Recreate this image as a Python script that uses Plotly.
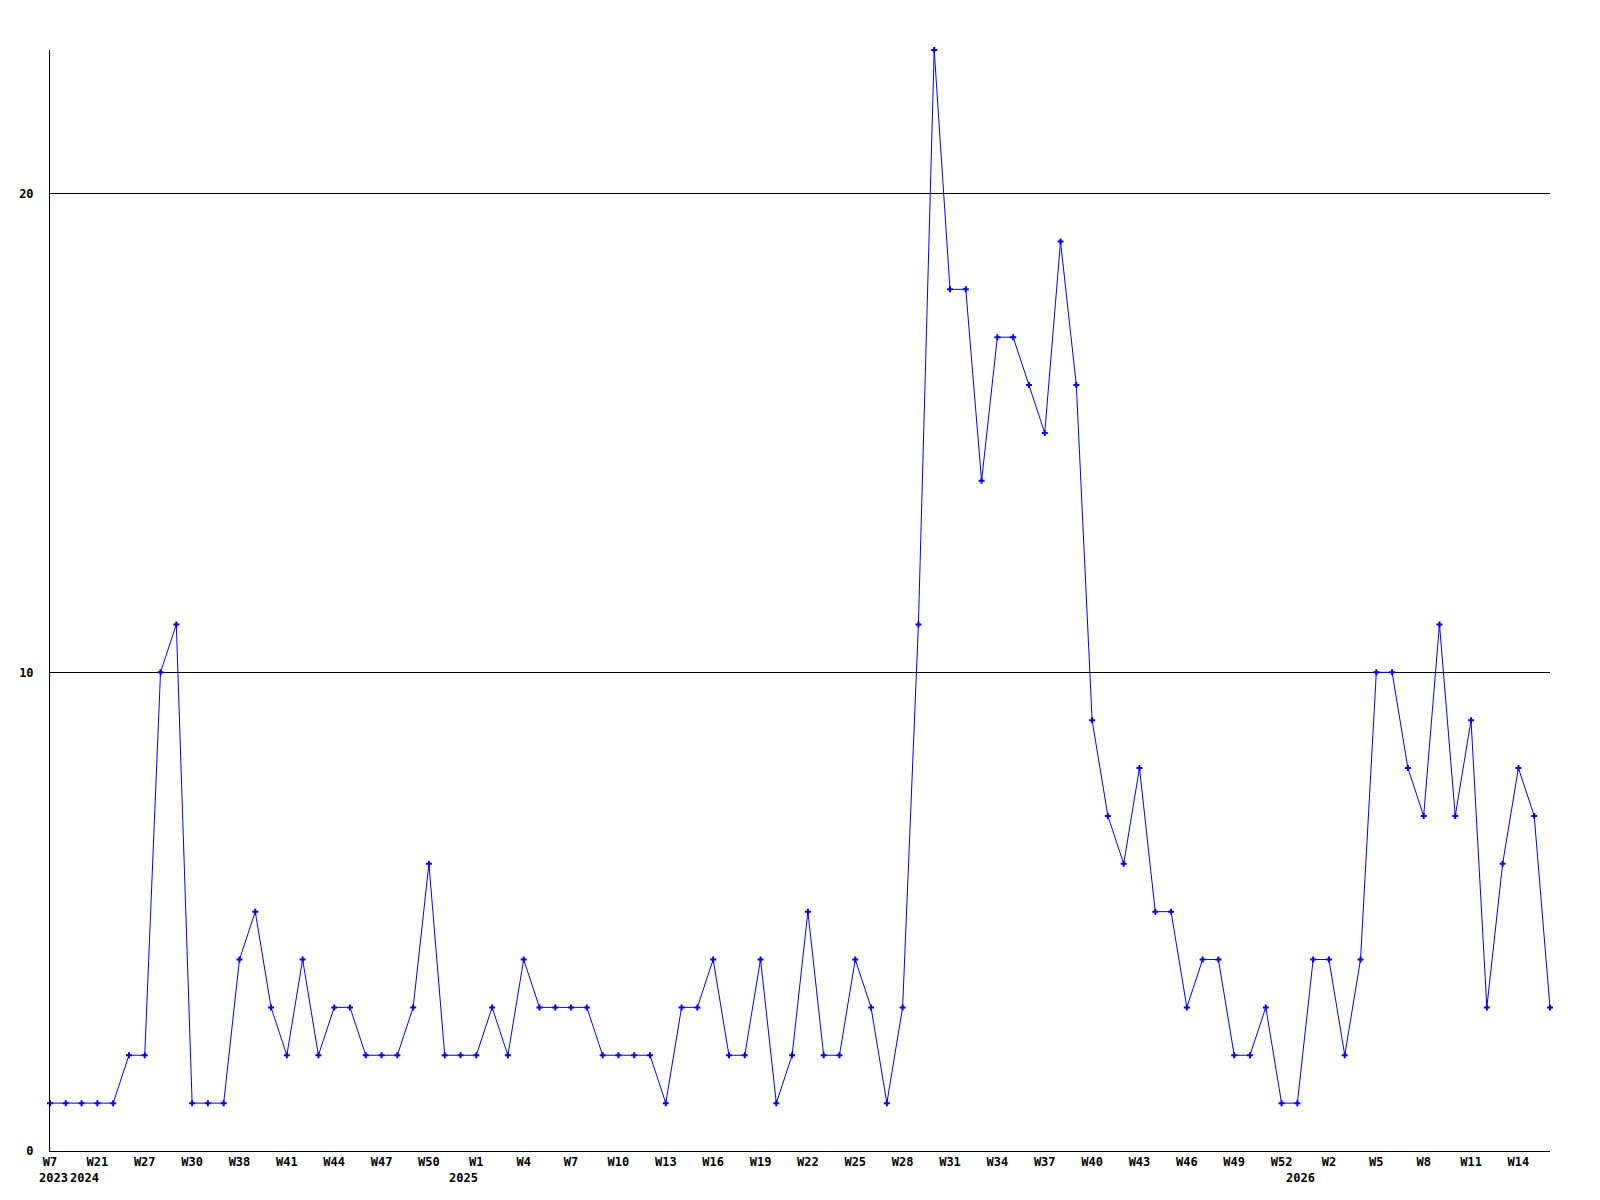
import plotly.graph_objects as go

# Weekly counts (one entry per point, in order)
values = [1, 1, 1, 1, 1, 2, 2, 10, 11, 1,
          1, 1, 4, 5, 3, 2, 4, 2, 3, 3,
          2, 2, 2, 3, 6, 2, 2, 2, 3, 2,
          4, 3, 3, 3, 3, 2, 2, 2, 2, 1,
          3, 3, 4, 2, 2, 4, 1, 2, 5, 2,
          2, 4, 3, 1, 3, 11, 23, 18, 18, 14,
          17, 17, 16, 15, 19, 16, 9, 7, 6, 8,
          5, 5, 3, 4, 4, 2, 2, 3, 1, 1,
          4, 4, 2, 4, 10, 10, 8, 7, 11, 7,
          9, 3, 6, 8, 7, 3]

# Week tick labels, shown on every third point
week_labels = ["W7", "W21", "W27", "W30", "W38", "W41", "W44", "W47", "W50",
               "W1", "W4", "W7", "W10", "W13", "W16", "W19", "W22", "W25",
               "W28", "W31", "W34", "W37", "W40", "W43", "W46", "W49", "W52",
               "W2", "W5", "W8", "W11", "W14"]
label_step = 3

# Year labels and the index of the first point of each year
year_labels = ["2023", "2024", "2025", "2026"]
year_start_index = [0, 2, 26, 79]

y_ticks = [0, 10, 20]

x = list(range(len(values)))
tick_positions = [i * label_step for i in range(len(week_labels))]

FONT = "DejaVu Sans Mono"

fig = go.Figure()
fig.add_trace(go.Scatter(
    x=x, y=values, mode="lines+markers",
    line=dict(color="#0000ff", width=1),
    marker=dict(symbol="cross", size=5, color="#0000ff", line=dict(width=0)),
    cliponaxis=False,
    showlegend=False,
))

for label, idx in zip(year_labels, year_start_index):
    fig.add_annotation(
        x=idx, y=0, xref="x", yref="paper",
        text=label, showarrow=False,
        xanchor="center", yanchor="top", yshift=-18, xshift=3,
        font=dict(family=FONT, size=12, color="black", weight="bold"),
    )

fig.update_layout(
    width=1592, height=1192,
    margin=dict(l=42, r=50, t=42, b=49, pad=0),
    paper_bgcolor="white", plot_bgcolor="white",
    xaxis=dict(
        range=[0, len(values) - 1],
        tickmode="array", tickvals=tick_positions, ticktext=week_labels,
        showgrid=False, zeroline=False,
        showline=True, linecolor="black", linewidth=1,
        ticks="", ticklabelstandoff=0,
        tickfont=dict(family=FONT, size=12, color="black", weight="bold"),
    ),
    yaxis=dict(
        range=[0, 23],
        tickmode="array", tickvals=y_ticks, ticktext=[str(v) for v in y_ticks],
        showgrid=True, gridcolor="black", gridwidth=1,
        zeroline=False,
        showline=True, linecolor="black", linewidth=1,
        ticks="", ticklabelstandoff=13,
        tickfont=dict(family=FONT, size=12, color="black", weight="bold"),
    ),
)

fig.write_html("out.html")
